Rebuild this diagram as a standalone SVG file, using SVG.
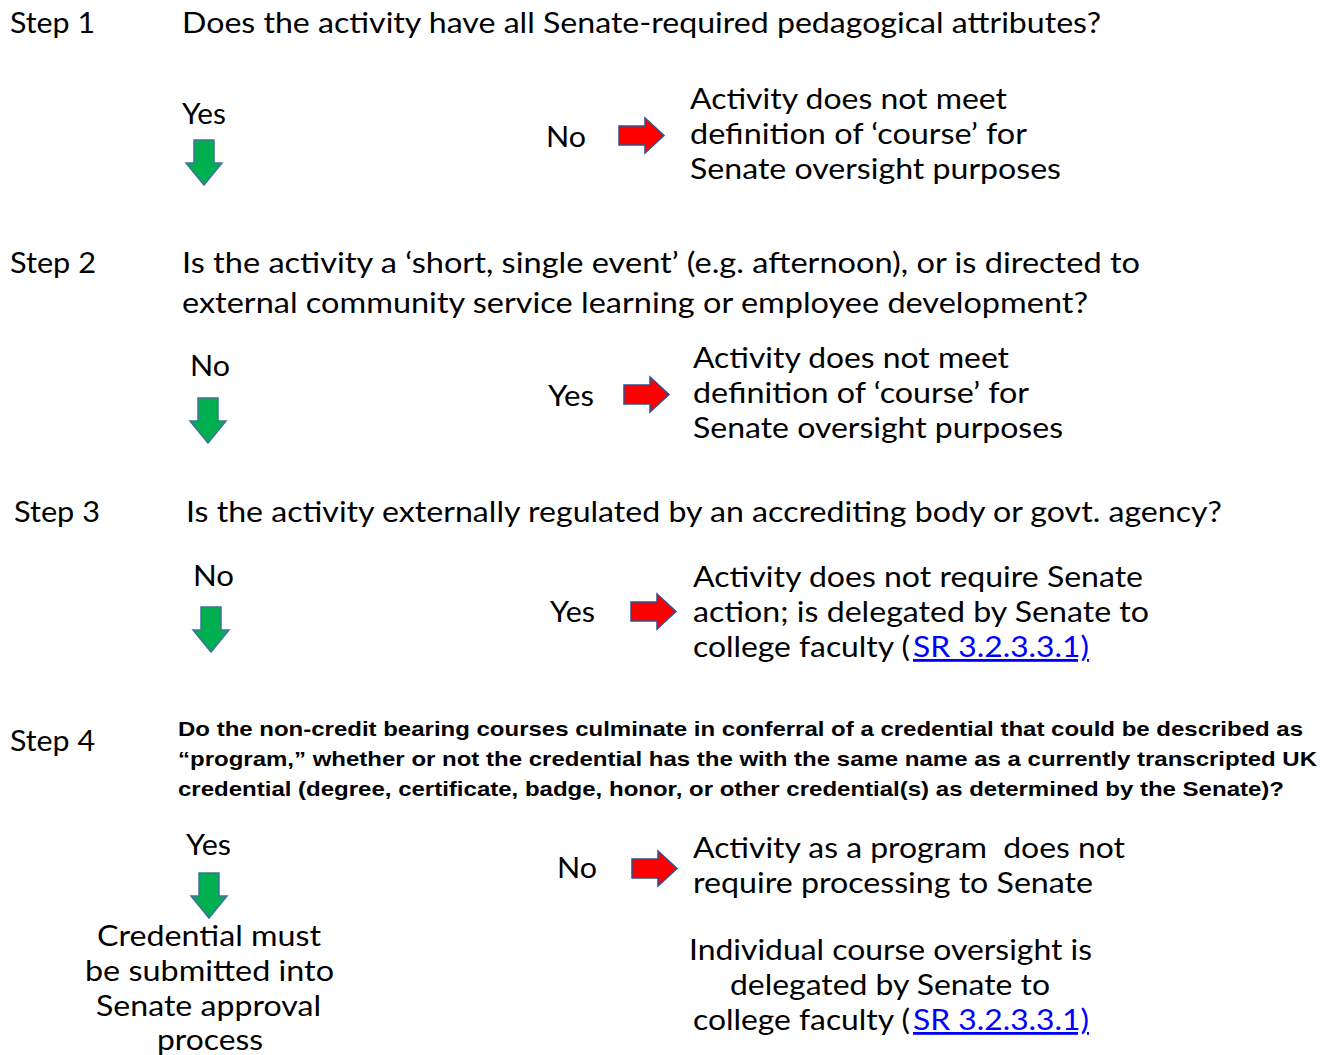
<svg xmlns="http://www.w3.org/2000/svg" width="1337" height="1055" viewBox="0 0 1337 1055">
<style>
.t{font-family:Lato,"Open Sans","Liberation Sans",sans-serif;font-size:28px;fill:#000}
.b{font-family:"Liberation Sans",Arial,sans-serif;font-size:21px;font-weight:bold;fill:#000}
.lnk{fill:#0000FF;text-decoration:underline}
.g{fill:#00B050;stroke:#41719C;stroke-width:1.5}
.r{fill:#FF0000;stroke:#2F528F;stroke-width:1.5}
</style>
<defs>
<path id="down" d="M8,0 H28 V23 H36 L18,45 L0,23 H8 Z"/>
<path id="right" d="M0,8 H26 V0 L45,17.5 L26,35 V27 H0 Z"/>
</defs>
<rect width="1337" height="1055" fill="#fff"/>
<g id="step1">
<text class="t" x="10" y="33" textLength="85" lengthAdjust="spacingAndGlyphs">Step 1</text>
<text class="t" x="182" y="33" textLength="919" lengthAdjust="spacingAndGlyphs">Does the activity have all Senate-required pedagogical attributes?</text>
<text class="t" x="182" y="124" textLength="44" lengthAdjust="spacingAndGlyphs">Yes</text>
<text class="t" x="546" y="147" textLength="40" lengthAdjust="spacingAndGlyphs">No</text>
<text class="t" x="690" y="109" textLength="317" lengthAdjust="spacingAndGlyphs">Activity does not meet</text>
<text class="t" x="690" y="144" textLength="337" lengthAdjust="spacingAndGlyphs">definition of ‘course’ for</text>
<text class="t" x="690" y="179" textLength="371" lengthAdjust="spacingAndGlyphs">Senate oversight purposes</text>
</g>
<g id="step2">
<text class="t" x="10" y="273" textLength="86" lengthAdjust="spacingAndGlyphs">Step 2</text>
<text class="t" x="182" y="273" textLength="958" lengthAdjust="spacingAndGlyphs">Is the activity a ‘short, single event’ (e.g. afternoon), or is directed to</text>
<text class="t" x="182" y="313" textLength="906" lengthAdjust="spacingAndGlyphs">external community service learning or employee development?</text>
<text class="t" x="190" y="376" textLength="40" lengthAdjust="spacingAndGlyphs">No</text>
<text class="t" x="548" y="406" textLength="46" lengthAdjust="spacingAndGlyphs">Yes</text>
<text class="t" x="693" y="368" textLength="316" lengthAdjust="spacingAndGlyphs">Activity does not meet</text>
<text class="t" x="693" y="403" textLength="336" lengthAdjust="spacingAndGlyphs">definition of ‘course’ for</text>
<text class="t" x="693" y="438" textLength="370" lengthAdjust="spacingAndGlyphs">Senate oversight purposes</text>
</g>
<g id="step3">
<text class="t" x="14" y="522" textLength="86" lengthAdjust="spacingAndGlyphs">Step 3</text>
<text class="t" x="186" y="522" textLength="1036" lengthAdjust="spacingAndGlyphs">Is the activity externally regulated by an accrediting body or govt. agency?</text>
<text class="t" x="193" y="586" textLength="41" lengthAdjust="spacingAndGlyphs">No</text>
<text class="t" x="550" y="622" textLength="45" lengthAdjust="spacingAndGlyphs">Yes</text>
<text class="t" x="693" y="587" textLength="450" lengthAdjust="spacingAndGlyphs">Activity does not require Senate</text>
<text class="t" x="693" y="622" textLength="456" lengthAdjust="spacingAndGlyphs">action; is delegated by Senate to</text>
<text class="t" x="693" y="657" textLength="217" lengthAdjust="spacingAndGlyphs">college faculty (</text>
<text class="t lnk" x="913" y="657" textLength="176" lengthAdjust="spacingAndGlyphs">SR 3.2.3.3.1)</text>
</g>
<g id="step4">
<text class="t" x="10" y="751" textLength="85" lengthAdjust="spacingAndGlyphs">Step 4</text>
<text class="b" x="178" y="736" textLength="1125" lengthAdjust="spacingAndGlyphs">Do the non-credit bearing courses culminate in conferral of a credential that could be described as</text>
<text class="b" x="178" y="766" textLength="1139" lengthAdjust="spacingAndGlyphs">“program,” whether or not the credential has the with the same name as a currently transcripted UK</text>
<text class="b" x="178" y="796" textLength="1106" lengthAdjust="spacingAndGlyphs">credential (degree, certificate, badge, honor, or other credential(s) as determined by the Senate)?</text>
<text class="t" x="186" y="855" textLength="45" lengthAdjust="spacingAndGlyphs">Yes</text>
<text class="t" x="557" y="878" textLength="40" lengthAdjust="spacingAndGlyphs">No</text>
<text class="t" x="693" y="858" textLength="432" lengthAdjust="spacingAndGlyphs" xml:space="preserve" style="white-space:pre">Activity as a program  does not</text>
<text class="t" x="693" y="893" textLength="400" lengthAdjust="spacingAndGlyphs">require processing to Senate</text>
<text class="t" x="689" y="960" textLength="403" lengthAdjust="spacingAndGlyphs">Individual course oversight is</text>
<text class="t" x="730" y="995" textLength="320" lengthAdjust="spacingAndGlyphs">delegated by Senate to</text>
<text class="t" x="693" y="1030" textLength="217" lengthAdjust="spacingAndGlyphs">college faculty (</text>
<text class="t lnk" x="913" y="1030" textLength="176" lengthAdjust="spacingAndGlyphs">SR 3.2.3.3.1)</text>
<text class="t" x="97" y="946" textLength="224" lengthAdjust="spacingAndGlyphs">Credential must</text>
<text class="t" x="85" y="981" textLength="249" lengthAdjust="spacingAndGlyphs">be submitted into</text>
<text class="t" x="96" y="1016" textLength="225" lengthAdjust="spacingAndGlyphs">Senate approval</text>
<text class="t" x="157" y="1050" textLength="106" lengthAdjust="spacingAndGlyphs">process</text>
</g>
<g id="connectors">
<use href="#down" class="g" x="186" y="140"/>
<use href="#right" class="r" x="619" y="118"/>
<use href="#down" class="g" x="190" y="398"/>
<use href="#right" class="r" x="624" y="377"/>
<use href="#down" class="g" x="193" y="607"/>
<use href="#right" class="r" x="631" y="594"/>
<use href="#down" class="g" x="191" y="873"/>
<use href="#right" class="r" x="632" y="851"/>
</g>
</svg>
